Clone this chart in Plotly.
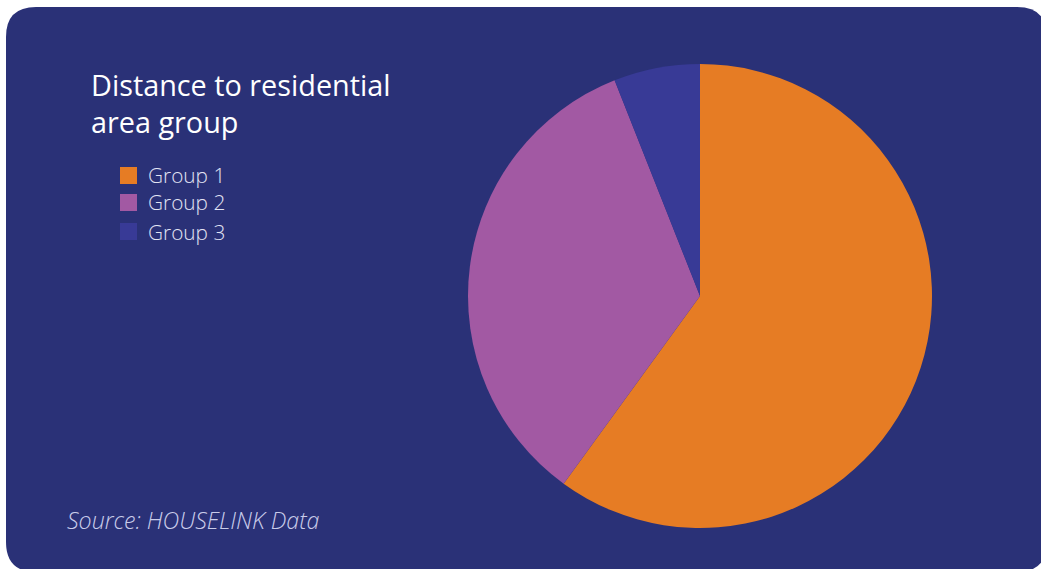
import plotly.graph_objects as go

# Share of properties by distance-to-residential-area group
labels = ["Group 1", "Group 2", "Group 3"]
values = [60, 34, 6]
colors = ["#E67C24", "#A259A3", "#383A96"]

title_text = "Distance to residential<br>area group"
source_text = "Source: HOUSELINK Data"

W, H = 1041, 569
BG = "#2A3177"


def px(x):
    return x / W


def py(y):
    return 1 - y / H


def rounded_rect(x0, y0, x1, y1, r):
    pts = [
        f"M{px(x0 + r)},{py(y0)}",
        f"L{px(x1 - r)},{py(y0)}",
        f"Q{px(x1)},{py(y0)} {px(x1)},{py(y0 + r)}",
        f"L{px(x1)},{py(y1 - r)}",
        f"Q{px(x1)},{py(y1)} {px(x1 - r)},{py(y1)}",
        f"L{px(x0 + r)},{py(y1)}",
        f"Q{px(x0)},{py(y1)} {px(x0)},{py(y1 - r)}",
        f"L{px(x0)},{py(y0 + r)}",
        f"Q{px(x0)},{py(y0)} {px(x0 + r)},{py(y0)}",
        "Z",
    ]
    return " ".join(pts)


fig = go.Figure(
    go.Pie(
        labels=labels,
        values=values,
        marker=dict(colors=colors, line=dict(width=0)),
        sort=False,
        direction="clockwise",
        rotation=0,
        textinfo="none",
        hoverinfo="label+percent",
        domain=dict(x=[px(468), px(932)], y=[py(528), py(64)]),
        showlegend=False,
    )
)

shapes = [
    dict(
        type="path",
        xref="paper",
        yref="paper",
        path=rounded_rect(6, 7, 1047, 572, 30),
        fillcolor=BG,
        line=dict(width=0),
        layer="below",
    )
]

annotations = [
    dict(
        text=title_text,
        x=px(89),
        y=py(103),
        xref="paper",
        yref="paper",
        xanchor="left",
        yanchor="middle",
        align="left",
        showarrow=False,
        font=dict(family="Open Sans", size=28.8, color="#FFFFFF"),
    ),
    dict(
        text=f"<i>{source_text}</i>",
        x=px(65),
        y=py(520),
        xref="paper",
        yref="paper",
        xanchor="left",
        yanchor="middle",
        showarrow=False,
        font=dict(family="Open Sans", size=23.2, color="#C9CCEA", weight=300),
    ),
]

# Legend swatches and labels
row_y = [175.5, 202.5, 231.5]
for lab, col, yc in zip(labels, colors, row_y):
    shapes.append(
        dict(
            type="rect",
            xref="paper",
            yref="paper",
            x0=px(120),
            x1=px(137),
            y0=py(yc + 8.5),
            y1=py(yc - 8.5),
            fillcolor=col,
            line=dict(width=0),
        )
    )
    annotations.append(
        dict(
            text=lab,
            x=px(146),
            y=py(yc),
            xref="paper",
            yref="paper",
            xanchor="left",
            yanchor="middle",
            showarrow=False,
            font=dict(family="Open Sans", size=20.8, color="#E2E4F4", weight=300),
        )
    )

fig.update_layout(
    width=W,
    height=H,
    margin=dict(l=0, r=0, t=0, b=0),
    paper_bgcolor="#FFFFFF",
    plot_bgcolor="#FFFFFF",
    shapes=shapes,
    annotations=annotations,
)

fig.write_html("out.html")
